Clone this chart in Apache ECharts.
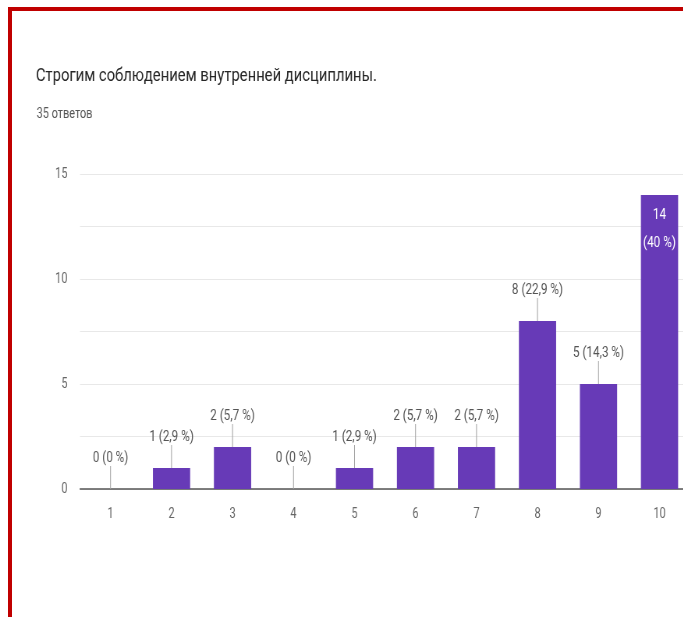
<!DOCTYPE html>
<html>
<head>
<meta charset="utf-8">
<script src="https://cdn.jsdelivr.net/npm/echarts@6/dist/echarts.min.js"></script>
<style>
html,body{margin:0;padding:0;background:#fff;overflow:hidden;width:683px;height:617px;position:relative;}
#chart{position:absolute;left:0;top:0;width:876px;height:617px;transform:scaleX(0.78);transform-origin:0 0;}
#frame{position:absolute;left:7.5px;top:6.7px;width:1000px;height:1000px;border:4px solid #c00000;box-sizing:border-box;pointer-events:none;}
</style>
</head>
<body>
<div id="chart"></div>
<div id="frame"></div>
<script>
var titleText = 'Строгим соблюдением внутренней дисциплины.';
var subtitleText = '35 ответов';
var categories = ['1','2','3','4','5','6','7','8','9','10'];
var counts = [0,1,2,0,1,2,2,8,5,14];
var percents = ['0 %','2,9 %','5,7 %','0 %','2,9 %','5,7 %','5,7 %','22,9 %','14,3 %','40 %'];
var yTicks = [0,5,10,15];

var FONT = 'Roboto, "Noto Sans", sans-serif';

var data = counts.map(function(v, i){
  var item = {value: v};
  if (v > 12) {
    item.label = {
      position: 'insideTop',
      color: '#ffffff',
      distance: 6,
      lineHeight: 28,
      formatter: v + '\n(' + percents[i] + ')'
    };
    item.labelLine = {show: false};
  }
  return item;
});

var chart = echarts.init(document.getElementById('chart'));
chart.setOption({
  animation: false,
  backgroundColor: '#ffffff',
  title: [
    {text: titleText, left: 41, top: 62,
     textStyle: {fontFamily: FONT, fontSize: 19, fontWeight: 'normal', color: '#262626'}},
    {text: subtitleText, left: 42, top: 102,
     textStyle: {fontFamily: FONT, fontSize: 14, fontWeight: 'normal', color: '#555555'}}
  ],
  grid: {left: 102.6, top: 174, width: 782, height: 315, outerBoundsMode: 'none', containLabel: false},
  xAxis: {
    type: 'category',
    data: categories,
    axisLine: {lineStyle: {color: '#555555', width: 1.5}},
    axisTick: {show: false},
    axisLabel: {color: '#666666', fontFamily: FONT, fontSize: 14, margin: 18}
  },
  yAxis: {
    type: 'value',
    min: yTicks[0],
    max: yTicks[yTicks.length - 1],
    interval: yTicks[1] - yTicks[0],
    axisLine: {show: false},
    axisTick: {show: false},
    axisLabel: {color: '#666666', fontFamily: FONT, fontSize: 14, margin: 16},
    splitLine: {lineStyle: {color: '#e8e8e8', width: 1}},
    minorTick: {show: false, splitNumber: 2},
    minorSplitLine: {show: true, lineStyle: {color: '#e8e8e8', width: 1}}
  },
  series: [{
    type: 'bar',
    data: data,
    barWidth: '61%',
    itemStyle: {color: '#673ab7'},
    label: {
      show: true,
      position: 'top',
      distance: 5,
      color: '#555555',
      fontFamily: FONT,
      fontSize: 15,
      formatter: function(p){ return p.value + ' (' + percents[p.dataIndex] + ')'; }
    },
    labelLine: {show: true, lineStyle: {color: '#a0a0a0', width: 1}},
    labelLayout: function(p){
      return counts[p.dataIndex] > 12 ? {} : {dy: -18};
    }
  }]
});
</script>
</body>
</html>
